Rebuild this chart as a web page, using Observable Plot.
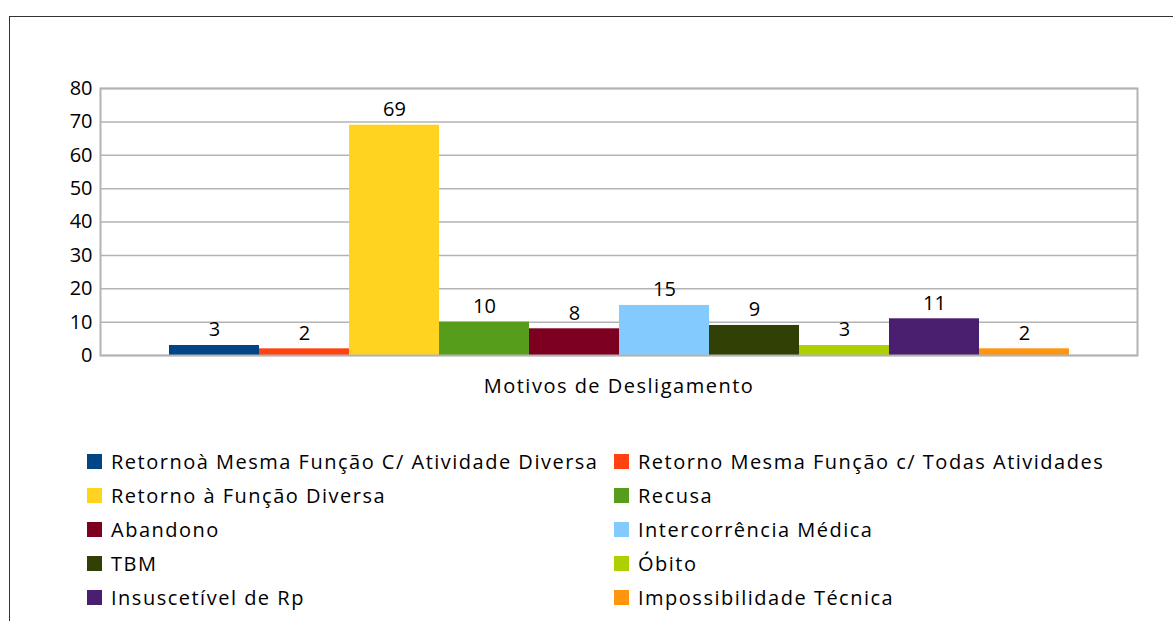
<!DOCTYPE html>
<html><head><meta charset="utf-8">
<script src="https://cdn.jsdelivr.net/npm/d3@7"></script>
<script src="https://cdn.jsdelivr.net/npm/@observablehq/plot@0.6"></script>
<style>
body{margin:0;background:#fff;font-family:"Open Sans",sans-serif;}
#wrap{position:relative;width:1173px;height:621px;overflow:hidden;background:#fff;}
#wrap svg{position:absolute;left:0;top:0;}
#border{position:absolute;left:9px;top:16px;width:2000px;height:2000px;border-left:1.5px solid #333;border-top:1.5px solid #333;pointer-events:none;}
.leg{position:absolute;display:flex;align-items:center;height:34px;font-size:20px;letter-spacing:1.5px;color:#000;white-space:nowrap;}
.sw{width:15px;height:15px;margin-right:9px;flex:none;}
.xtitle text{letter-spacing:1.5px;}
</style></head><body><div id="wrap"></div>
<script>
const categories = [
  "Retornoà Mesma Função C/ Atividade Diversa",
  "Retorno Mesma Função c/ Todas Atividades",
  "Retorno à Função Diversa",
  "Recusa",
  "Abandono",
  "Intercorrência Médica",
  "TBM",
  "Óbito",
  "Insuscetível de Rp",
  "Impossibilidade Técnica"
];
const values = [3, 2, 69, 10, 8, 15, 9, 3, 11, 2];
const colors = ["#004586", "#ff420e", "#ffd320", "#579d1c", "#7e0021", "#83caff", "#314004", "#aecf00", "#4b1f6f", "#ff950e"];
const yTicks = [0, 10, 20, 30, 40, 50, 60, 70, 80];
const xTitle = "Motivos de Desligamento";

const data = categories.map((c, i) => ({category: c, value: values[i]}));

const chart = Plot.plot({
  width: 1173,
  height: 420,
  marginLeft: 100,
  marginRight: 36,
  marginTop: 88,
  marginBottom: 65,
  style: {fontFamily: "Open Sans", fontSize: "20px", background: "transparent", color: "#000"},
  x: {domain: categories, paddingInner: 0, paddingOuter: 0.75, axis: null},
  y: {domain: [0, 80], ticks: yTicks},
  color: {domain: categories, range: colors},
  marks: [
    Plot.gridY(yTicks, {stroke: "#b3b3b3", strokeOpacity: 1, strokeWidth: 1.5}),
    Plot.barY(data, {x: "category", y: "value", fill: "category"}),
    Plot.frame({stroke: "#b3b3b3", strokeWidth: 2}),
    Plot.axisY(yTicks, {tickSize: 0, tickPadding: 8, fontSize: 20, label: null, fill: "#000"}),
    Plot.text(data, {x: "category", y: "value", text: d => String(d.value), lineAnchor: "bottom", dy: -9, fontSize: 20, fill: "#000"}),
    Plot.text([xTitle], {frameAnchor: "bottom", dy: 31, lineAnchor: "middle", fontSize: 20, fill: "#000", className: "xtitle"})
  ]
});

const wrap = document.getElementById("wrap");
wrap.appendChild(chart);

categories.forEach((c, i) => {
  const row = Math.floor(i / 2), col = i % 2;
  const div = document.createElement("div");
  div.className = "leg";
  div.style.left = (col === 0 ? 87 : 614) + "px";
  div.style.top = (461 + row * 34 - 17) + "px";
  const sw = document.createElement("div");
  sw.className = "sw";
  sw.style.background = colors[i];
  const t = document.createElement("span");
  t.textContent = c;
  div.appendChild(sw);
  div.appendChild(t);
  wrap.appendChild(div);
});

const border = document.createElement("div");
border.id = "border";
wrap.appendChild(border);
</script>
</body></html>
